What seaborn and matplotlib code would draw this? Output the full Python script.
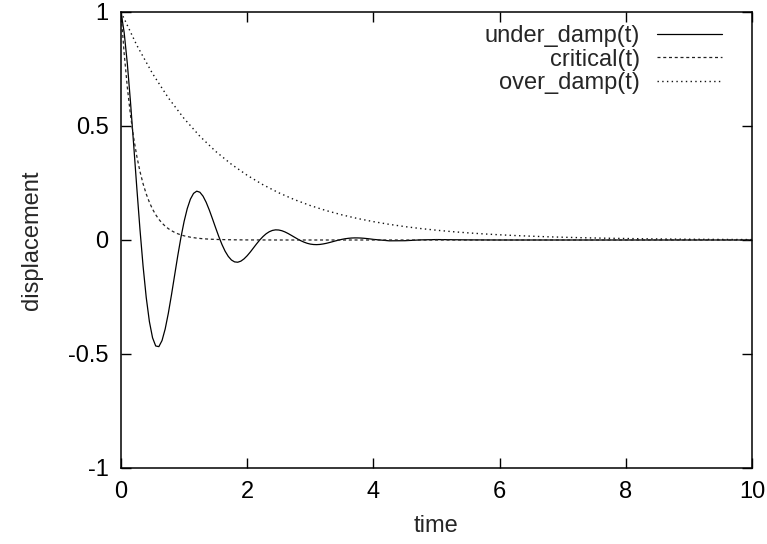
import numpy as np
import pandas as pd
import matplotlib
matplotlib.use("Agg")
from matplotlib import pyplot as plt
import seaborn as sns

# values
# under_damp(t): fine steps up to t=4, then a few tail points
t_under = list(np.round(np.arange(0, 4.001, 0.05), 2)) + [4.25, 4.5, 4.75, 5.0, 5.5, 6, 7, 8, 9, 10]
under_damp = [1.0000, 0.9102, 0.7745, 0.6066, 0.4208, 0.2307, 0.0486, -0.1151, -0.2524, -0.3579,
              -0.4288, -0.4648, -0.4677, -0.4411, -0.3904, -0.3214, -0.2405, -0.1542, -0.0684, 0.0115,
              0.0813, 0.1378, 0.1792, 0.2045, 0.2142, 0.2095, 0.1923, 0.1652, 0.1310, 0.0927,
              0.0532, 0.0150, -0.0197, -0.0492, -0.0719, -0.0877, -0.0960, -0.0975, -0.0927, -0.0827,
              -0.0689, -0.0524, -0.0344, -0.0164, 0.0003, 0.0151, 0.0273, 0.0363, 0.0420, 0.0445,
              0.0438, 0.0406, 0.0352, 0.0282, 0.0203, 0.0122, 0.0041, -0.0032, -0.0094, -0.0144,
              -0.0179, -0.0198, -0.0203, -0.0195, -0.0175, -0.0148, -0.0114, -0.0077, -0.0039, -0.0004,
              0.0028, 0.0054, 0.0073, 0.0086, 0.0092, 0.0091, 0.0086, 0.0076, 0.0062, 0.0046,
              0.0027, -0.0036, -0.0031, 0.0005, 0.0019, 0.0005, 0.0, 0.0, 0.0, 0.0, 0.0]

t_crit = list(np.round(np.arange(0, 1.001, 0.05), 2)) + [1.1, 1.2, 1.3, 1.4, 1.5, 1.75, 2, 2.5, 3, 4, 6, 8, 10]
critical = [1.0, 0.8187, 0.6703, 0.5488, 0.4493, 0.3679, 0.3012, 0.2466, 0.2019, 0.1653,
            0.1353, 0.1108, 0.0907, 0.0743, 0.0608, 0.0498, 0.0408, 0.0334, 0.0273, 0.0224,
            0.0183, 0.0123, 0.0082, 0.0055, 0.0037, 0.0025, 0.0009, 0.0003, 0.0, 0.0,
            0.0, 0.0, 0.0, 0.0]

t_over = list(np.round(np.arange(0, 10.001, 0.25), 2))
over_damp = [1.0000, 0.8543, 0.7298, 0.6235, 0.5326, 0.4550, 0.3887, 0.3321, 0.2837, 0.2424,
             0.2070, 0.1769, 0.1511, 0.1291, 0.1103, 0.0942, 0.0805, 0.0687, 0.0587, 0.0502,
             0.0429, 0.0366, 0.0313, 0.0267, 0.0228, 0.0195, 0.0167, 0.0142, 0.0122, 0.0104,
             0.0089, 0.0076, 0.0065, 0.0055, 0.0047, 0.0040, 0.0034, 0.0029, 0.0025, 0.0021,
             0.0018]

sns.set_theme(style="ticks")
plt.rcParams['font.family'] = ['Liberation Sans', 'DejaVu Sans']

fig = plt.figure(figsize=(7.67, 5.44), dpi=100)
ax = fig.add_axes([121/767, 1-468/544, 631/767, 456/544])

df_u = pd.DataFrame({'time': t_under, 'y': under_damp})
df_c = pd.DataFrame({'time': t_crit, 'y': critical})
df_o = pd.DataFrame({'time': t_over, 'y': over_damp})

sns.lineplot(data=df_u, x='time', y='y', ax=ax, color='black', lw=0.9,
             label='under_damp(t)')
sns.lineplot(data=df_c, x='time', y='y', ax=ax, color='#222222', lw=0.9,
             linestyle=(0, (2.4, 2.2)), label='critical(t)')
sns.lineplot(data=df_o, x='time', y='y', ax=ax, color='#111111', lw=1.0,
             linestyle=(0, (1.0, 2.4)), label='over_damp(t)')

ax.set_xlim(0, 10)
ax.set_ylim(-1, 1)
ax.set_xticks([0, 2, 4, 6, 8, 10])
ax.set_yticks([-1, -0.5, 0, 0.5, 1])
ax.set_yticklabels(['-1', '-0.5', '0', '0.5', '1'])
ax.set_xlabel('time', fontsize=17, labelpad=9)
ax.set_ylabel('displacement', fontsize=17, labelpad=18)
ax.tick_params(direction='in', length=7, width=1, labelsize=17, pad=9,
               top=True, right=True, colors='black')
for s in ax.spines.values():
    s.set_color('black')
    s.set_linewidth(1.1)

leg = ax.legend(loc='upper right', bbox_to_anchor=(0.952, 0.971), frameon=False,
                markerfirst=False, fontsize=17, handlelength=2.75, handletextpad=0.7,
                labelspacing=0.06, borderpad=0, borderaxespad=0)
try:
    for col in leg._legend_box._children[1]._children:
        col.align = 'right'
except Exception:
    pass

fig.savefig('out.png', dpi=100)
